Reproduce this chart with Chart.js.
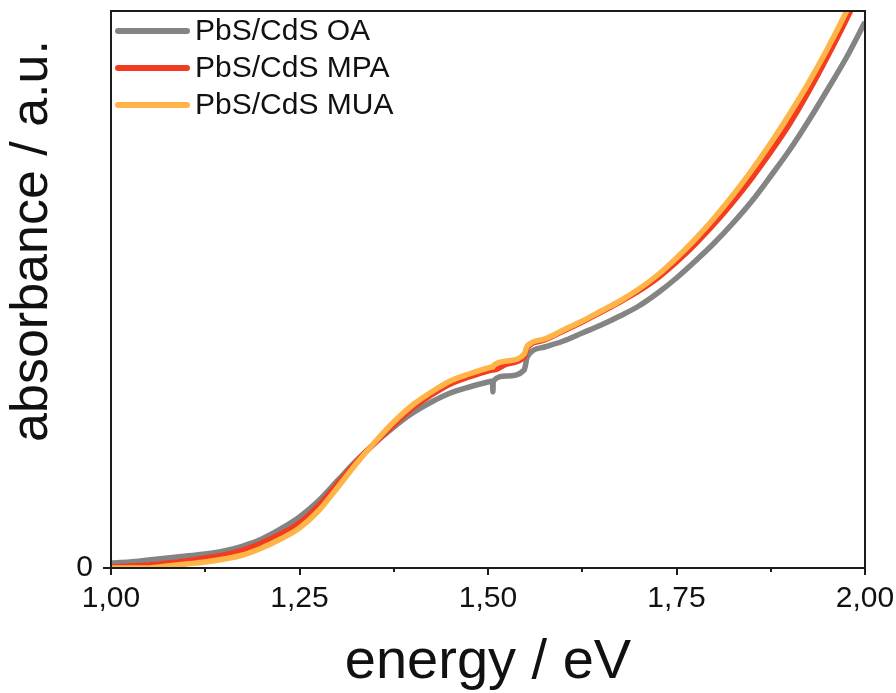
<!DOCTYPE html>
<html>
<head>
<meta charset="utf-8">
<script src="https://cdn.jsdelivr.net/npm/chart.js@4"></script>
<style>
  html, body { margin: 0; padding: 0; background: #fff; }
</style>
</head>
<body>
<canvas id="absChart" width="896" height="693"></canvas>
<script>
// Data (energy in eV, absorbance in a.u.)
const energy = [1.00, 1.025, 1.05, 1.075, 1.10, 1.125, 1.15, 1.175, 1.20, 1.225, 1.25, 1.275, 1.30, 1.325,
    1.35, 1.375, 1.40, 1.425, 1.45, 1.475, 1.50, 1.506, 1.5065, 1.507, 1.525, 1.548, 1.552, 1.575, 1.60,
    1.625, 1.65, 1.675, 1.70, 1.725, 1.75, 1.775, 1.80, 1.825, 1.85, 1.875, 1.90, 1.925, 1.95, 1.975, 2.00];

const absOA = [0.005, 0.006, 0.008, 0.010, 0.012, 0.014, 0.017, 0.022, 0.029, 0.039, 0.051, 0.067, 0.087, 0.107,
    0.125, 0.141, 0.155, 0.166, 0.175, 0.181, 0.186, 0.187, 0.176, 0.187, 0.192, 0.198, 0.211, 0.221, 0.227,
    0.235, 0.243, 0.252, 0.262, 0.275, 0.290, 0.307, 0.325, 0.345, 0.367, 0.392, 0.418, 0.447, 0.478, 0.510, 0.546];

const absMPA = [0.001, 0.002, 0.003, 0.005, 0.007, 0.010, 0.013, 0.018, 0.025, 0.034, 0.045, 0.062, 0.084, 0.106,
    0.125, 0.143, 0.160, 0.173, 0.184, 0.191, 0.197, 0.198, 0.198, 0.198, 0.204, 0.211, 0.220, 0.228, 0.237,
    0.246, 0.256, 0.266, 0.277, 0.290, 0.306, 0.324, 0.344, 0.366, 0.390, 0.416, 0.444, 0.476, 0.511, 0.548, 0.588];

const absMUA = [0.000, 0.000, 0.000, 0.002, 0.004, 0.006, 0.009, 0.013, 0.020, 0.029, 0.040, 0.057, 0.080, 0.104,
    0.126, 0.146, 0.163, 0.176, 0.187, 0.194, 0.200, 0.201, 0.201, 0.202, 0.207, 0.214, 0.222, 0.229, 0.238,
    0.247, 0.257, 0.267, 0.279, 0.293, 0.310, 0.329, 0.350, 0.373, 0.398, 0.425, 0.454, 0.485, 0.519, 0.556, 0.596];

const seriesLabels = ['PbS/CdS OA', 'PbS/CdS MPA', 'PbS/CdS MUA'];
const seriesColors = ['#848484', '#f33c1f', '#ffb447'];
const xTicks = [1.00, 1.25, 1.50, 1.75, 2.00];
const xMinorTicks = [1.125, 1.375, 1.625, 1.875];
const yTicks = [0];

const FONT = '"Liberation Sans", Arial, Helvetica, sans-serif';

function toPoints(vals) {
    return energy.map((e, i) => ({ x: e, y: vals[i] }));
}

// frame, tick marks, legend and axis titles
const decor = {
    id: 'decor',
    afterDraw(chart) {
        const { ctx, chartArea: a, scales: { x, y } } = chart;
        ctx.save();
        ctx.strokeStyle = '#1c1c1c';
        ctx.lineWidth = 2;
        ctx.strokeRect(a.left, a.top, a.right - a.left, a.bottom - a.top);

        ctx.beginPath();
        xTicks.forEach(v => {
            const px = Math.round(x.getPixelForValue(v));
            ctx.moveTo(px, a.bottom);
            ctx.lineTo(px, a.bottom + 7);
        });
        xMinorTicks.forEach(v => {
            const px = Math.round(x.getPixelForValue(v));
            ctx.moveTo(px, a.bottom);
            ctx.lineTo(px, a.bottom + 4);
        });
        yTicks.forEach(v => {
            const py = y.getPixelForValue(v);
            ctx.moveTo(a.left, py);
            ctx.lineTo(a.left - 8, py);
        });
        ctx.stroke();

        // legend
        ctx.lineCap = 'round';
        ctx.lineWidth = 6;
        ctx.font = '30px ' + FONT;
        ctx.fillStyle = '#111';
        ctx.textBaseline = 'middle';
        ctx.textAlign = 'left';
        seriesLabels.forEach((lab, i) => {
            const ly = 31 + i * 37;
            ctx.strokeStyle = seriesColors[i];
            ctx.beginPath();
            ctx.moveTo(118, ly);
            ctx.lineTo(187, ly);
            ctx.stroke();
            ctx.fillText(lab, 195, ly + 1);
        });

        // axis titles
        ctx.textBaseline = 'alphabetic';
        ctx.textAlign = 'center';
        ctx.font = '56px ' + FONT;
        ctx.fillText('energy / eV', (a.left + a.right) / 2, 678);

        ctx.translate(47, 241);
        ctx.rotate(-Math.PI / 2);
        ctx.font = '52px ' + FONT;
        ctx.fillText('absorbance / a.u.', 0, 0);
        ctx.restore();
    }
};

const ctx = document.getElementById('absChart').getContext('2d');
const absChart = new Chart(ctx, {
    type: 'line',
    data: {
        datasets: [
            { label: seriesLabels[0], data: toPoints(absOA), borderColor: seriesColors[0], order: 3 },
            { label: seriesLabels[1], data: toPoints(absMPA), borderColor: seriesColors[1], order: 2 },
            { label: seriesLabels[2], data: toPoints(absMUA), borderColor: seriesColors[2], order: 1 }
        ]
    },
    options: {
        responsive: false,
        animation: false,
        devicePixelRatio: 1,
        layout: { padding: { top: 11, right: 31, left: 0, bottom: 0 } },
        datasets: {
            line: {
                borderWidth: 5.5,
                pointRadius: 0,
                cubicInterpolationMode: 'monotone',
                clip: 0
            }
        },
        plugins: {
            legend: { display: false },
            tooltip: { enabled: false }
        },
        scales: {
            x: {
                type: 'linear',
                min: 1,
                max: 2,
                grid: { display: false, drawTicks: false },
                border: { display: false },
                ticks: {
                    stepSize: 0.25,
                    padding: 13,
                    color: '#111',
                    font: { family: FONT, size: 30 },
                    callback: v => v.toFixed(2).replace('.', ',')
                },
                afterFit: s => {
                    s.height = 125;
                    s.paddingLeft = 0;
                    s.paddingRight = 0;
                }
            },
            y: {
                type: 'linear',
                min: 0,
                max: 0.557,
                grid: { display: false, drawTicks: false },
                border: { display: false },
                afterBuildTicks: s => { s.ticks = yTicks.map(v => ({ value: v })); },
                ticks: {
                    padding: 18,
                    color: '#111',
                    font: { family: FONT, size: 30 },
                    callback: v => String(v)
                },
                afterFit: s => {
                    s.width = 111;
                    s.paddingTop = 0;
                    s.paddingBottom = 0;
                }
            }
        }
    },
    plugins: [decor]
});
</script>
</body>
</html>
